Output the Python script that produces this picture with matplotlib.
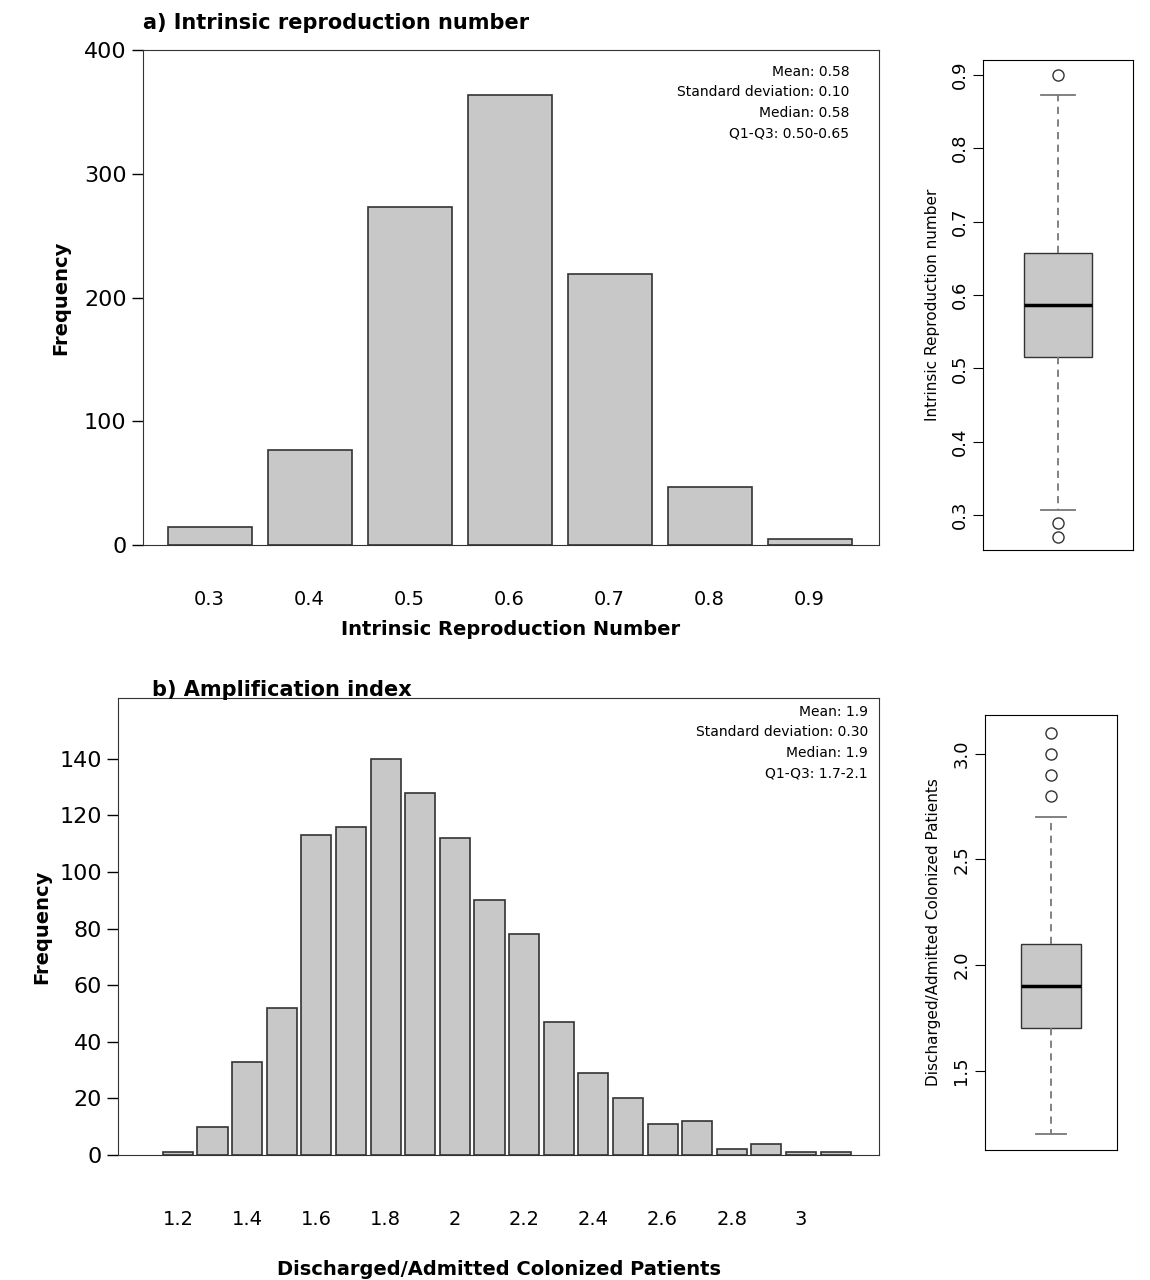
import matplotlib
matplotlib.use("Agg")
import matplotlib.pyplot as plt

r_centers = [0.3, 0.4, 0.5, 0.6, 0.7, 0.8, 0.9]
r_counts = [15, 77, 273, 364, 219, 47, 5]
r_yticks = [0, 100, 200, 300, 400]
r_box = dict(q1=0.515, med=0.587, q3=0.657, whislo=0.307, whishi=0.872, fliers=[0.90, 0.29, 0.27])
r_box_ticks = [0.3, 0.4, 0.5, 0.6, 0.7, 0.8, 0.9]

a_centers = [1.2, 1.3, 1.4, 1.5, 1.6, 1.7, 1.8, 1.9, 2.0, 2.1, 2.2, 2.3, 2.4, 2.5, 2.6, 2.7, 2.8, 2.9, 3.0, 3.1]
a_counts = [1, 10, 33, 52, 113, 116, 140, 128, 112, 90, 78, 47, 29, 20, 11, 12, 2, 4, 1, 1]
a_xticks = [1.2, 1.4, 1.6, 1.8, 2.0, 2.2, 2.4, 2.6, 2.8, 3.0]
a_xlabels = ["1.2", "1.4", "1.6", "1.8", "2", "2.2", "2.4", "2.6", "2.8", "3"]
a_yticks = [0, 20, 40, 60, 80, 100, 120, 140]
a_box = dict(q1=1.7, med=1.9, q3=2.1, whislo=1.2, whishi=2.7, fliers=[2.8, 2.9, 3.0, 3.1])
a_box_ticks = [1.5, 2.0, 2.5, 3.0]

fig = plt.figure(figsize=(11.5, 12.8), dpi=100)
grey = "#c8c8c8"

def hist(ax, centers, counts, width, xlim, ylim, yticks, xticks, xlabels, pad):
    ax.bar(centers, counts, width=width, color=grey, edgecolor="#333333", linewidth=1.2)
    ax.set_xlim(*xlim); ax.set_ylim(*ylim)
    ax.set_yticks(yticks)
    ax.set_yticklabels([str(v) for v in yticks], fontsize=16)
    ax.set_xticks(xticks)
    ax.set_xticklabels(xlabels, fontsize=14)
    ax.tick_params(axis="x", length=0, pad=pad)
    ax.tick_params(axis="y", length=8, width=1)
    for s in ax.spines.values():
        s.set_color("#333333")

ax1 = fig.add_axes([0.124, 0.574, 0.640, 0.387])
hist(ax1, r_centers, r_counts, 0.084, (0.233, 0.969), (0, 400), r_yticks, r_centers,
     [f"{v:.1f}" for v in r_centers], 32)
ax1.set_ylabel("Frequency", fontsize=14, fontweight="bold", labelpad=10)
ax1.set_xlabel("Intrinsic Reproduction Number", fontsize=14, fontweight="bold", labelpad=8)
ax1.text(0.96, 0.97, "Mean: 0.58\nStandard deviation: 0.10\nMedian: 0.58\nQ1-Q3: 0.50-0.65",
         transform=ax1.transAxes, ha="right", va="top", fontsize=10, linespacing=1.6)
fig.text(0.124, 0.982, "a) Intrinsic reproduction number", fontsize=15, fontweight="bold", va="center")

ax2 = fig.add_axes([0.1026, 0.0977, 0.662, 0.357])
hist(ax2, a_centers, a_counts, 0.087, (1.027, 3.226), (0, 161.5), a_yticks, a_xticks, a_xlabels, 40)
ax2.set_ylabel("Frequency", fontsize=14, fontweight="bold", labelpad=6)
ax2.set_xlabel("Discharged/Admitted Colonized Patients", fontsize=14, fontweight="bold", labelpad=22)
ax2.text(0.985, 0.985, "Mean: 1.9\nStandard deviation: 0.30\nMedian: 1.9\nQ1-Q3: 1.7-2.1",
         transform=ax2.transAxes, ha="right", va="top", fontsize=10, linespacing=1.6)
fig.text(0.1326, 0.461, "b) Amplification index", fontsize=15, fontweight="bold", va="center")

def box(ax, st, ylim, ticks, ylabel):
    stats = [dict(st, label="")]
    ax.bxp(stats, widths=0.45, patch_artist=True, showfliers=True,
           boxprops=dict(facecolor=grey, edgecolor="#333333", linewidth=1),
           medianprops=dict(color="black", linewidth=2.5),
           whiskerprops=dict(color="#777777", linestyle=(0, (4, 3)), linewidth=1.3),
           capprops=dict(color="#777777", linewidth=1.3),
           flierprops=dict(marker="o", markerfacecolor="none", markeredgecolor="#333333", markersize=8))
    ax.set_xlim(0.5, 1.5); ax.set_ylim(*ylim)
    ax.set_xticks([])
    ax.set_yticks(ticks)
    ax.set_yticklabels([f"{t:.1f}" for t in ticks], rotation=90, va="center", fontsize=13)
    ax.tick_params(axis="y", length=7)
    ax.set_ylabel(ylabel, fontsize=11, labelpad=8)

b1 = fig.add_axes([0.855, 0.570, 0.130, 0.383])
box(b1, r_box, (0.252, 0.92), r_box_ticks, "Intrinsic Reproduction number")
b2 = fig.add_axes([0.8565, 0.1016, 0.115, 0.340])
box(b2, a_box, (1.125, 3.185), a_box_ticks, "Discharged/Admitted Colonized Patients")

fig.savefig("out.png", dpi=100)
